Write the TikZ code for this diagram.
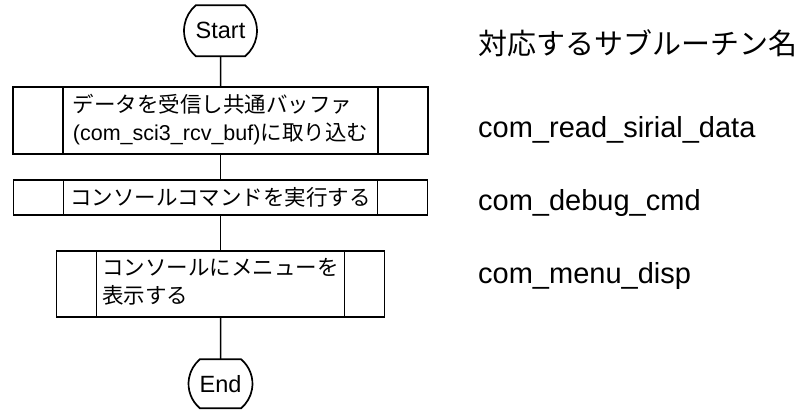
\documentclass[tikz,border=0pt]{standalone}
\usepackage{fontspec}
\setmainfont{Liberation Sans}
\newfontfamily\jp{Noto Sans CJK JP}
\usetikzlibrary{matrix,shapes.misc}

\newcommand\lines[1]{\begin{tabular}{@{}l@{}}#1\end{tabular}}

\begin{document}
\begin{tikzpicture}[x=1pt,y=-1pt,
    terminal/.style={draw,line width=1.7pt,outer sep=0pt,rounded rectangle,rounded rectangle arc length=100,inner sep=0pt,font=\fontsize{23.5}{28}\selectfont},
    process/.style={draw,line width=1.7pt,outer sep=0pt,rectangle,inner sep=0pt,font=\fontsize{21.5}{28}\selectfont},
    conn/.style={line width=1.5pt},
    side/.style={anchor=base west,inner sep=0pt,font=\fontsize{29}{35}\selectfont}]
\useasboundingbox (0,0) rectangle (801,410);
\matrix (flow) [matrix of nodes, anchor=north, inner sep=0pt, row sep=0pt] at (220.5,4.2) {
    |[terminal,minimum width=73pt,minimum height=51pt]| Start \\[29.3pt]
    |[process,minimum width=415pt,minimum height=67pt]| \lines{{\jp データを受信し共通バッファ}\\(com\_sci3\_rcv\_buf){\jp に取り込む}} \\[24.3pt]
    |[process,minimum width=414pt,minimum height=35pt]| {\jp コンソールコマンドを実行する} \\[34.3pt]
    |[process,minimum width=328pt,minimum height=66pt]| \lines{{\jp コンソールにメニューを}\\{\jp 表示する}} \\[40.3pt]
    |[terminal,minimum width=60pt,minimum height=49pt]| End \\
};
\foreach \r/\d in {2/50,3/50,4/40} {
    \draw[line width=1.7pt] ([xshift=\d pt]flow-\r-1.north west) -- ([xshift=\d pt]flow-\r-1.south west);
    \draw[line width=1.7pt] ([xshift=-\d pt]flow-\r-1.north east) -- ([xshift=-\d pt]flow-\r-1.south east);
}
\foreach \a/\b in {1/2,2/3,3/4,4/5}
    \draw[conn] (flow-\a-1) -- (flow-\b-1);
\node[side] (head) at (478,54) {\jp 対応するサブルーチン名};
\node[side] (read) at (478,137) {com\_read\_sirial\_data};
\node[side] (debug) at (478,210) {com\_debug\_cmd};
\node[side] (menu) at (478,283) {com\_menu\_disp};
\end{tikzpicture}
\end{document}
